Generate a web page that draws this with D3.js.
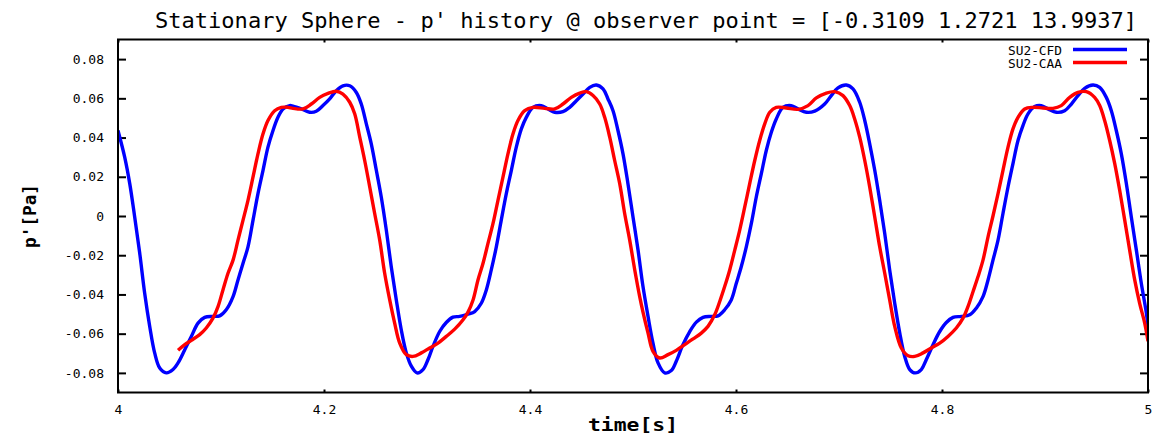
<!DOCTYPE html>
<html><head><meta charset="utf-8">
<script src="https://cdn.jsdelivr.net/npm/d3@7"></script>
<style>body{margin:0;background:#fff}svg{display:block}</style>
</head><body>
<script>
const titleText = "Stationary Sphere - p' history @ observer point = [-0.3109 1.2721 13.9937]";
const xLabel = "time[s]";
const yLabel = "p'[Pa]";
const seriesNames = ["SU2-CFD", "SU2-CAA"];
const seriesColors = ["#0000ff", "#ff0000"];
const xTicks = [4, 4.2, 4.4, 4.6, 4.8, 5];
const xTickLabels = ["4", "4.2", "4.4", "4.6", "4.8", "5"];
const yTicks = [-0.08, -0.06, -0.04, -0.02, 0, 0.02, 0.04, 0.06, 0.08];
const yTickLabels = ["-0.08", "-0.06", "-0.04", "-0.02", "0", "0.02", "0.04", "0.06", "0.08"];

// SU2-CFD (blue)
const cfdTime = [4.0000,4.0065,4.0114,4.0162,4.0211,4.0259,4.0308,4.0356,4.0405,4.0469,4.0534,4.0583,4.0648,4.0712,4.0777,4.0842,4.0922,4.0987,4.1051,4.1117,4.1165,4.1214,4.1262,4.1311,4.1359,4.1408,4.1456,4.1505,4.1553,4.1602,4.1667,4.1699,4.1780,4.1861,4.1925,4.1990,4.2055,4.2119,4.2184,4.2250,4.2314,4.2362,4.2411,4.2459,4.2508,4.2556,4.2605,4.2653,4.2702,4.2750,4.2799,4.2848,4.2903,4.2961,4.3010,4.3058,4.3123,4.3187,4.3252,4.3317,4.3398,4.3463,4.3527,4.3576,4.3624,4.3673,4.3721,4.3770,4.3819,4.3867,4.3916,4.3964,4.4029,4.4110,4.4175,4.4240,4.4320,4.4385,4.4450,4.4515,4.4580,4.4644,4.4709,4.4757,4.4806,4.4854,4.4903,4.4951,4.5000,4.5049,4.5097,4.5146,4.5194,4.5243,4.5308,4.5372,4.5420,4.5485,4.5551,4.5615,4.5680,4.5760,4.5825,4.5890,4.5954,4.6003,4.6051,4.6100,4.6149,4.6197,4.6246,4.6294,4.6343,4.6391,4.6456,4.6537,4.6602,4.6683,4.6764,4.6861,4.6925,4.6990,4.7071,4.7136,4.7201,4.7250,4.7298,4.7347,4.7395,4.7444,4.7492,4.7541,4.7590,4.7638,4.7687,4.7741,4.7799,4.7848,4.7913,4.7978,4.8042,4.8107,4.8188,4.8269,4.8333,4.8398,4.8447,4.8495,4.8544,4.8592,4.8641,4.8689,4.8738,4.8786,4.8835,4.8900,4.8964,4.9029,4.9110,4.9191,4.9256,4.9320,4.9385,4.9466,4.9531,4.9595,4.9644,4.9692,4.9741,4.9790,4.9838,4.9887,4.9935,4.9984,5.0000];
const cfdP = [0.0436,0.0300,0.0165,-0.0005,-0.0190,-0.0394,-0.0563,-0.0698,-0.0775,-0.0800,-0.0783,-0.0749,-0.0682,-0.0614,-0.0546,-0.0517,-0.0512,-0.0509,-0.0478,-0.0411,-0.0326,-0.0241,-0.0157,-0.0021,0.0114,0.0233,0.0351,0.0436,0.0503,0.0546,0.0563,0.0560,0.0546,0.0529,0.0534,0.0563,0.0597,0.0639,0.0664,0.0664,0.0630,0.0571,0.0470,0.0368,0.0233,0.0097,-0.0072,-0.0259,-0.0428,-0.0580,-0.0698,-0.0766,-0.0800,-0.0783,-0.0732,-0.0665,-0.0589,-0.0543,-0.0516,-0.0512,-0.0500,-0.0487,-0.0445,-0.0377,-0.0275,-0.0157,-0.0021,0.0114,0.0233,0.0351,0.0444,0.0503,0.0554,0.0563,0.0546,0.0529,0.0532,0.0554,0.0588,0.0622,0.0656,0.0668,0.0648,0.0597,0.0537,0.0436,0.0317,0.0165,-0.0005,-0.0174,-0.0360,-0.0512,-0.0648,-0.0749,-0.0800,-0.0788,-0.0741,-0.0656,-0.0589,-0.0541,-0.0517,-0.0512,-0.0509,-0.0478,-0.0428,-0.0343,-0.0259,-0.0157,-0.0038,0.0097,0.0216,0.0334,0.0427,0.0495,0.0554,0.0563,0.0546,0.0529,0.0535,0.0571,0.0614,0.0653,0.0668,0.0648,0.0580,0.0487,0.0368,0.0233,0.0080,-0.0089,-0.0275,-0.0445,-0.0597,-0.0716,-0.0783,-0.0800,-0.0783,-0.0732,-0.0656,-0.0589,-0.0543,-0.0517,-0.0512,-0.0504,-0.0470,-0.0411,-0.0326,-0.0225,-0.0123,0.0013,0.0148,0.0267,0.0385,0.0461,0.0521,0.0558,0.0563,0.0546,0.0529,0.0537,0.0571,0.0614,0.0651,0.0668,0.0656,0.0605,0.0537,0.0436,0.0317,0.0165,-0.0005,-0.0174,-0.0343,-0.0495,-0.0563];

// SU2-CAA (red)
const caaTime = [4.0583,4.0648,4.0712,4.0793,4.0857,4.0922,4.0971,4.1019,4.1068,4.1117,4.1165,4.1214,4.1262,4.1311,4.1359,4.1408,4.1456,4.1521,4.1586,4.1650,4.1699,4.1796,4.1877,4.1958,4.2039,4.2119,4.2184,4.2250,4.2298,4.2347,4.2395,4.2444,4.2492,4.2541,4.2589,4.2638,4.2686,4.2735,4.2799,4.2864,4.2945,4.3026,4.3107,4.3187,4.3269,4.3350,4.3398,4.3447,4.3495,4.3544,4.3592,4.3641,4.3689,4.3738,4.3786,4.3835,4.3883,4.3949,4.4029,4.4143,4.4240,4.4320,4.4401,4.4483,4.4547,4.4612,4.4677,4.4725,4.4774,4.4822,4.4871,4.4919,4.4968,4.5017,4.5065,4.5097,4.5146,4.5194,4.5259,4.5340,4.5420,4.5502,4.5583,4.5663,4.5728,4.5793,4.5842,4.5890,4.5939,4.5988,4.6036,4.6085,4.6133,4.6182,4.6230,4.6279,4.6328,4.6391,4.6488,4.6602,4.6699,4.6780,4.6877,4.6958,4.7039,4.7104,4.7152,4.7201,4.7250,4.7298,4.7347,4.7395,4.7444,4.7492,4.7541,4.7605,4.7670,4.7735,4.7816,4.7896,4.7978,4.8058,4.8139,4.8204,4.8252,4.8301,4.8350,4.8398,4.8447,4.8495,4.8544,4.8592,4.8641,4.8689,4.8738,4.8803,4.8883,4.8981,4.9078,4.9158,4.9240,4.9320,4.9401,4.9482,4.9531,4.9579,4.9628,4.9677,4.9725,4.9774,4.9822,4.9871,4.9919,4.9968,5.0000];
const caaP = [-0.0685,-0.0656,-0.0634,-0.0605,-0.0571,-0.0521,-0.0462,-0.0377,-0.0292,-0.0225,-0.0123,-0.0021,0.0080,0.0199,0.0317,0.0419,0.0487,0.0537,0.0554,0.0554,0.0549,0.0546,0.0571,0.0605,0.0625,0.0636,0.0622,0.0580,0.0521,0.0402,0.0283,0.0148,0.0013,-0.0123,-0.0292,-0.0428,-0.0546,-0.0648,-0.0707,-0.0716,-0.0698,-0.0673,-0.0648,-0.0614,-0.0577,-0.0529,-0.0490,-0.0428,-0.0326,-0.0241,-0.0140,-0.0038,0.0080,0.0199,0.0317,0.0419,0.0487,0.0537,0.0554,0.0549,0.0546,0.0571,0.0605,0.0627,0.0634,0.0614,0.0571,0.0503,0.0402,0.0283,0.0165,0.0013,-0.0123,-0.0275,-0.0411,-0.0490,-0.0597,-0.0690,-0.0724,-0.0707,-0.0685,-0.0656,-0.0627,-0.0597,-0.0563,-0.0504,-0.0436,-0.0360,-0.0275,-0.0174,-0.0072,0.0046,0.0165,0.0283,0.0385,0.0470,0.0529,0.0554,0.0551,0.0544,0.0563,0.0602,0.0627,0.0634,0.0614,0.0563,0.0495,0.0402,0.0283,0.0148,-0.0005,-0.0157,-0.0292,-0.0428,-0.0563,-0.0673,-0.0712,-0.0716,-0.0698,-0.0673,-0.0648,-0.0614,-0.0571,-0.0521,-0.0462,-0.0386,-0.0309,-0.0225,-0.0106,0.0000,0.0114,0.0233,0.0351,0.0444,0.0503,0.0546,0.0554,0.0551,0.0549,0.0563,0.0605,0.0630,0.0634,0.0605,0.0563,0.0487,0.0385,0.0267,0.0131,-0.0021,-0.0174,-0.0326,-0.0445,-0.0546,-0.0639];

const W = 1154, H = 438;
const L = 118, R = 1148, T = 39.5, B = 392.5;
const mono = "'DejaVu Sans Mono', monospace";

const svg = d3.select("body").append("svg").attr("width", W).attr("height", H);
const x = d3.scaleLinear().domain([4, 5]).range([L, R]);
const y = d3.scaleLinear().domain([-0.09, 0.09]).range([B, T]);

// title
svg.append("text").attr("x", (155 + 1137) / 2).attr("y", 28)
  .attr("text-anchor", "middle").attr("font-family", mono).attr("font-size", 21)
  .attr("textLength", 982).attr("lengthAdjust", "spacingAndGlyphs")
  .attr("fill", "#000").text(titleText);

// y axis (left) ticks + labels
const yAxisL = d3.axisLeft(y).tickValues(yTicks).tickSize(-8).tickPadding(14)
  .tickFormat((d, i) => yTickLabels[i]);
const gyl = svg.append("g").attr("transform", `translate(${L},0)`).call(yAxisL);
gyl.select(".domain").remove();
gyl.selectAll("line").attr("stroke", "#000").attr("stroke-width", 2);
gyl.selectAll("text").attr("font-family", mono).attr("font-size", 13).attr("fill", "#000");

// y axis (right) ticks
const yAxisR = d3.axisRight(y).tickValues(yTicks).tickSize(-8).tickFormat("");
const gyr = svg.append("g").attr("transform", `translate(${R},0)`).call(yAxisR);
gyr.select(".domain").remove();
gyr.selectAll("line").attr("stroke", "#000").attr("stroke-width", 2);

// x axis bottom
const xAxisB = d3.axisBottom(x).tickValues(xTicks).tickSize(-3).tickPadding(12)
  .tickFormat((d, i) => xTickLabels[i]);
const gxb = svg.append("g").attr("transform", `translate(0,${B})`).call(xAxisB);
gxb.select(".domain").remove();
gxb.selectAll("line").attr("stroke", "#000").attr("stroke-width", 2);
gxb.selectAll("text").attr("font-family", mono).attr("font-size", 13).attr("fill", "#000");

const xAxisT = d3.axisTop(x).tickValues(xTicks).tickSize(-3).tickFormat("");
const gxt = svg.append("g").attr("transform", `translate(0,${T})`).call(xAxisT);
gxt.select(".domain").remove();
gxt.selectAll("line").attr("stroke", "#000").attr("stroke-width", 2);

// series
svg.append("clipPath").attr("id", "clip").append("rect")
  .attr("x", L).attr("y", T).attr("width", R - L).attr("height", B - T);
const line = d3.line().x(d => x(d[0])).y(d => y(d[1])).curve(d3.curveCatmullRom.alpha(0.5));
const series = [d3.zip(cfdTime, cfdP), d3.zip(caaTime, caaP)];
series.forEach((s, i) => {
  svg.append("path").datum(s).attr("d", line).attr("fill", "none")
    .attr("stroke", seriesColors[i]).attr("stroke-width", 3.4)
    .attr("stroke-linejoin", "round").attr("clip-path", "url(#clip)");
});

// frame
svg.append("rect").attr("x", L).attr("y", T).attr("width", R - L).attr("height", B - T)
  .attr("fill", "none").attr("stroke", "#000").attr("stroke-width", 2);

// legend
seriesNames.forEach((n, i) => {
  const ly = 49.5 + i * 13;
  svg.append("text").attr("x", 1062).attr("y", ly + 5).attr("text-anchor", "end")
    .attr("font-family", mono).attr("font-size", 13)
    .attr("textLength", 54).attr("lengthAdjust", "spacingAndGlyphs").text(n);
  svg.append("line").attr("x1", 1073).attr("x2", 1127).attr("y1", ly).attr("y2", ly)
    .attr("stroke", seriesColors[i]).attr("stroke-width", 3.4);
});

// axis labels
svg.append("text").attr("x", 633).attr("y", 431).attr("text-anchor", "middle")
  .attr("font-family", mono).attr("font-size", 18).attr("font-weight", "bold")
  .attr("textLength", 90).attr("lengthAdjust", "spacingAndGlyphs").text(xLabel);
svg.append("text").attr("transform", "translate(36,216) rotate(-90)").attr("text-anchor", "middle")
  .attr("font-family", mono).attr("font-size", 18).attr("font-weight", "bold")
  .attr("textLength", 64).attr("lengthAdjust", "spacingAndGlyphs").text(yLabel);
</script>
</body></html>
